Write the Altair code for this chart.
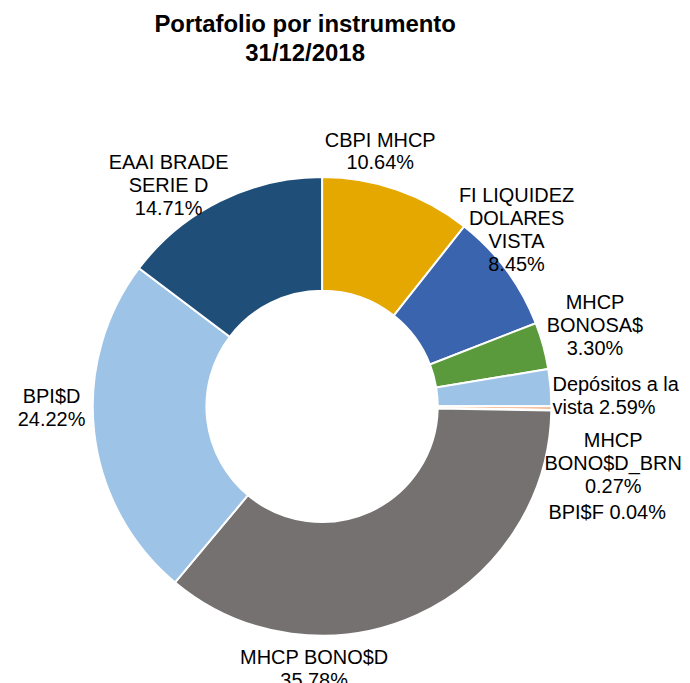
import altair as alt
import pandas as pd

labels = ["CBPI MHCP", "FI LIQUIDEZ DOLARES VISTA", "MHCP BONOSA$", "Depósitos a la vista",
          "MHCP BONO$D_BRN", "BPI$F", "MHCP BONO$D", "BPI$D", "EAAI BRADE SERIE D"]
label_text = ["CBPI MHCP\n10.64%", "FI LIQUIDEZ\nDOLARES\nVISTA\n8.45%", "MHCP\nBONOSA$\n3.30%",
              "Depósitos a la\nvista 2.59%", "MHCP\nBONO$D_BRN\n0.27%", "BPI$F 0.04%",
              "MHCP BONO$D\n35.78%", "BPI$D\n24.22%", "EAAI BRADE\nSERIE D\n14.71%"]
values = [10.64, 8.45, 3.30, 2.59, 0.27, 0.04, 35.78, 24.22, 14.71]
colors = ["#E5A800", "#3A64AD", "#5B9A3C", "#9DC3E6", "#F4B183", "#A5A5A5", "#767171", "#9DC3E6", "#1F4E79"]

df = pd.DataFrame({"label": labels, "text": label_text, "value": values,
                   "order": list(range(len(labels)))})

# label offsets (style): dx, dy, align
offsets = {
    "CBPI MHCP": (-27, -21, "center"),
    "FI LIQUIDEZ DOLARES VISTA": (-14, -56, "center"),
    "MHCP BONOSA$": (23, -35, "center"),
    "Depósitos a la vista": (-28, 0, "left"),
    "MHCP BONO$D_BRN": (32, 33, "center"),
    "BPI$F": (26, 103, "center"),
    "MHCP BONO$D": (-116, 16, "center"),
    "BPI$D": (-13, -39, "center"),
    "EAAI BRADE SERIE D": (-38, -11, "center"),
}

W, H = 630, 683
R_OUT, R_IN, R_LAB = 230, 116, 260

base = alt.Chart(df)

arcs = base.mark_arc(outerRadius=R_OUT, innerRadius=R_IN, stroke="white", strokeWidth=2).encode(
    theta=alt.Theta("value:Q", stack=True),
    order=alt.Order("order:Q"),
    color=alt.Color("label:N", scale=alt.Scale(domain=labels, range=colors), legend=None),
)

lab_base = base.transform_window(
    cum="sum(value)", sort=[alt.SortField("order")]
).transform_calculate(mid="datum.cum - datum.value / 2")

layers = [arcs]
for lab in labels:
    dx, dy, al = offsets[lab]
    layers.append(
        lab_base.transform_filter(alt.datum.label == lab).mark_text(
            radius=R_LAB, dx=dx, dy=dy, align=al, baseline="middle",
            lineBreak="\n", font="Liberation Sans", fontSize=20, lineHeight=23, color="#000000"
        ).encode(
            theta=alt.Theta("mid:Q", stack=None, scale=alt.Scale(domain=[0, 100])),
            text="text:N",
        )
    )

chart = alt.layer(*layers).properties(
    width=W, height=H,
    title=alt.TitleParams(["Portafolio por instrumento", "31/12/2018"], font="Liberation Sans",
                          fontSize=24, fontWeight="bold", lineHeight=29, anchor="middle",
                          dx=-17, dy=4, offset=4, color="#000000"),
    padding={"top": 4, "left": 0, "right": 0, "bottom": 0},
).configure_view(strokeWidth=0)

chart.save("out.html", embed_options={"renderer": "svg", "actions": False})
